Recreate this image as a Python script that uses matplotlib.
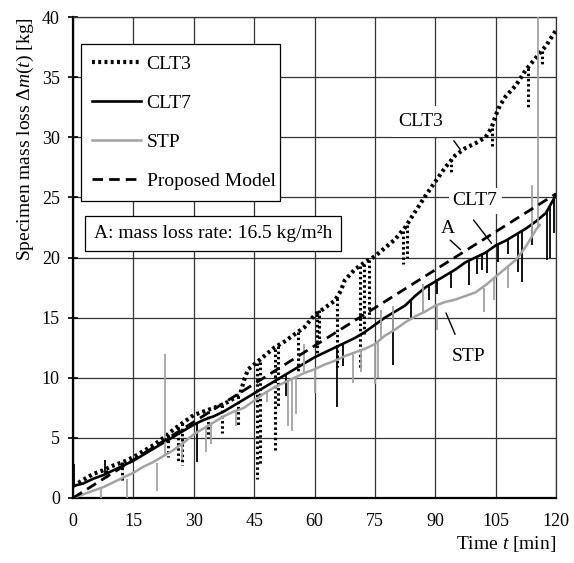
import numpy as np
import matplotlib.pyplot as plt

# mass loss readings [kg] against time [min]
clt3_t = [0, 2.5, 5, 7.5, 10, 12.5, 15, 17.5, 20, 22.5, 25, 27.5, 30, 32.5, 35, 37.5, 40, 41.5,
          42.5, 43.5, 45, 47.5, 50, 52.5, 55, 57.5, 60, 62.5, 65, 66.5, 67.5, 70, 72.5, 75, 77.5,
          80, 82.5, 85, 87.5, 90, 92.5, 95, 97.5, 100, 102.5, 104, 105, 106, 107.5, 110, 112.5,
          115, 117.5, 120]
clt3_m = [1.0, 1.5, 2.0, 2.3, 2.7, 3.0, 3.4, 3.9, 4.4, 5.0, 5.7, 6.3, 6.9, 7.2, 7.5, 7.8, 8.3, 8.6,
          9.8, 10.7, 11.1, 11.8, 12.5, 13.0, 13.6, 14.2, 15.2, 15.8, 16.4, 17.2, 18.1, 19.0, 19.6,
          20.1, 20.8, 21.5, 22.5, 23.8, 25.1, 26.3, 27.5, 28.5, 29.1, 29.5, 30.0, 30.8, 31.8, 32.6,
          33.4, 34.3, 35.6, 36.6, 37.6, 38.9]
# drop-outs: time, upper, lower
clt3_spk_t = [8.3, 12.1, 23.5, 26.0, 27.0, 33.5, 37.0, 41.0, 45.8, 46.4, 50.2, 51.0, 56.0, 60.5,
              61.2, 65.5, 71.3, 72.3, 73.5, 82.0, 83.0, 94.0, 104.0, 113.0, 116.5]
clt3_spk_a = [2.3, 3.0, 5.2, 5.9, 6.2, 7.2, 7.7, 8.5, 11.2, 11.3, 12.4, 12.6, 13.8, 15.3,
              15.6, 16.6, 19.3, 19.5, 19.8, 22.2, 22.7, 28.2, 30.8, 35.8, 37.2]
clt3_spk_b = [1.5, 1.4, 3.4, 2.9, 2.75, 5.0, 5.4, 5.9, 1.6, 2.8, 4.0, 7.5, 10.5, 12.0,
              13.1, 10.9, 10.8, 13.5, 15.0, 19.5, 20.0, 27.0, 29.2, 32.5, 36.0]

clt7_t = [0, 2.5, 5, 7.5, 10, 12.5, 15, 17.5, 20, 22.5, 25, 27.5, 30, 32.5, 35, 37.5, 40, 42.5,
          45, 47.5, 50, 52.5, 55, 57.5, 60, 62.5, 65, 67.5, 70, 72.5, 75, 77.5, 80, 82.5, 85,
          87.5, 90, 92.5, 95, 97.5, 100, 102.5, 105, 107.5, 110, 112.5, 115, 117.5, 120]
clt7_m = [1.0, 1.2, 1.6, 1.9, 2.3, 2.7, 3.1, 3.6, 4.1, 4.6, 5.1, 5.6, 6.1, 6.5, 6.8, 7.2, 7.7, 8.2,
          8.7, 9.2, 9.7, 10.2, 10.7, 11.2, 11.7, 12.1, 12.5, 12.9, 13.3, 13.8, 14.4, 15.0, 15.5,
          16.0, 16.8, 17.5, 18.0, 18.5, 19.0, 19.6, 20.0, 20.4, 21.0, 21.4, 21.9, 22.4, 23.0,
          23.7, 25.2]
clt7_spk_t = [0.2, 8.0, 30.9, 53.0, 65.5, 67.0, 79.5, 84.0, 88.5, 90.4, 94.0, 98.3, 100.3,
              101.5, 102.9, 105.7, 108.0, 110.5, 111.5, 114.0, 117.8, 118.5, 119.5]
clt7_spk_a = [1.0, 1.9, 6.3, 10.3, 12.6, 12.9, 15.4, 16.5, 17.8, 18.2, 18.8, 19.8, 20.1,
              20.3, 20.5, 21.1, 21.5, 22.0, 22.2, 22.8, 23.8, 24.2, 25.0]
clt7_spk_b = [2.8, 3.2, 3.0, 8.5, 7.6, 11.0, 11.1, 15.0, 16.5, 17.0, 17.5, 17.7, 18.6,
              19.0, 18.7, 19.6, 20.3, 18.8, 18.0, 21.0, 19.8, 20.0, 22.0]

stp_t = [0, 2.5, 5, 7.5, 10, 12.5, 15, 17.5, 20, 22.5, 25, 27.5, 30, 32.5, 35, 37.5, 40, 42.5,
         45, 47.5, 50, 52.5, 55, 57.5, 60, 62.5, 65, 67.5, 70, 72.5, 75, 77.5, 80, 82.5, 85,
         87.5, 90, 92.5, 95, 97.5, 100, 102.5, 105, 107.5, 110, 112.5, 115, 116]
stp_m = [0.0, 0.3, 0.6, 0.9, 1.3, 1.7, 2.1, 2.6, 3.0, 3.5, 4.0, 4.6, 5.3, 5.8, 6.3, 6.8, 7.2, 7.5,
         8.1, 8.7, 9.2, 9.6, 10.0, 10.4, 10.7, 11.1, 11.4, 11.8, 12.1, 12.4, 12.8, 13.5, 14.0,
         14.6, 15.1, 15.5, 16.0, 16.3, 16.5, 16.8, 17.1, 17.7, 18.4, 19.1, 19.8, 20.9, 22.3, 22.7]
stp_spk_t = [6.9, 13.4, 20.8, 22.9, 27.0, 33.0, 34.2, 40.5, 48.3, 53.5, 54.5, 55.5, 57.5, 60.0,
             69.5, 71.5, 75.0, 75.8, 76.5, 79.5, 87.0, 90.5, 102.0, 104.5, 108.0, 114.0, 115.5]
stp_spk_a = [0.8, 1.6, 2.9, 3.5, 4.5, 5.9, 6.1, 7.2, 8.8, 9.7, 9.9, 10.0, 10.4, 10.7,
             12.0, 12.3, 12.8, 13.0, 13.2, 13.8, 15.5, 16.0, 17.5, 18.2, 19.2, 21.8, 22.5]
stp_spk_b = [0.0, 0.0, 0.6, 12.0, 3.2, 3.8, 4.5, 6.0, 8.0, 6.0, 5.6, 7.0, 12.8, 8.7,
             9.6, 10.5, 9.5, 10.0, 15.6, 16.0, 17.8, 14.0, 15.5, 16.5, 17.5, 26.0, 40.0]

# proposed model, 16.5 kg/m2h
model_t = [0, 120]
model_m = [0, 25.3]

plt.rcParams['font.family'] = ['Liberation Serif', 'DejaVu Serif']
plt.rcParams['mathtext.fontset'] = 'custom'
plt.rcParams['mathtext.rm'] = 'Liberation Serif'
plt.rcParams['mathtext.it'] = 'Liberation Serif:italic'
plt.rcParams['font.size'] = 14

fig = plt.figure(figsize=(5.74, 5.63), dpi=100)
ax = fig.add_axes([73/574, 1-498/563, 483/574, 481/563])

grey = '#a3a3a3'
ax.plot(clt3_t, clt3_m, color='black', ls=(0, (0.7, 0.8)), lw=3.0, label='CLT3', zorder=2)
ax.vlines(clt3_spk_t, clt3_spk_a, clt3_spk_b, colors='black', linestyles=(0, (0.8, 0.9)), lw=2.2, zorder=2)
ax.plot(clt7_t, clt7_m, color='black', lw=1.9, label='CLT7', zorder=3)
ax.vlines(clt7_spk_t, clt7_spk_a, clt7_spk_b, colors='black', lw=1.3, zorder=3)
ax.plot(stp_t, stp_m, color=grey, lw=1.8, label='STP', zorder=4)
ax.vlines(stp_spk_t, stp_spk_a, stp_spk_b, colors=grey, lw=1.3, zorder=4)
ax.plot(model_t, model_m, color='black', lw=2.0, dashes=(3.8, 2.2), label='Proposed Model', zorder=4)

ax.set_xlim(0, 120)
ax.set_ylim(0, 40)
ax.set_xticks(np.arange(0, 121, 15))
ax.set_yticks(np.arange(0, 41, 5))
ax.grid(True, color='#333333', lw=0.9)
ax.set_axisbelow(True)
for s in ['top', 'right']:
    ax.spines[s].set_linewidth(0.9)
    ax.spines[s].set_color('#333333')
for s in ['left', 'bottom']:
    ax.spines[s].set_linewidth(1.6)
ax.tick_params(axis='y', direction='inout', length=7, width=1.2, pad=6, labelsize=13)
ax.tick_params(axis='x', length=0, pad=11, labelsize=13)

ax.set_ylabel('Specimen mass loss $\\Delta m(t)$ [kg]', loc='top', labelpad=4)
ax.set_xlabel('Time $t$ [min]', loc='right', labelpad=3)

leg = ax.legend(loc='upper left', bbox_to_anchor=(0.0166, 0.6, 0.412, 0.344), mode='expand',
                borderaxespad=0, fancybox=False, framealpha=1, edgecolor='black',
                handlelength=2.5, handletextpad=0.3, labelspacing=1.1, borderpad=0.58)
leg.get_frame().set_linewidth(0.9)

ax.text(5.2, 22.0, 'A: mass loss rate: 16.5 kg/m²h', va='center', ha='left', zorder=6,
        bbox=dict(boxstyle='square,pad=0.45', facecolor='white', edgecolor='black', lw=0.9))

box = dict(facecolor='white', edgecolor='none', pad=5)
ax.text(86.5, 31.35, 'CLT3', ha='center', va='center', zorder=6, bbox=box)
ax.text(99.9, 24.7, 'CLT7', ha='center', va='center', zorder=6, bbox=dict(facecolor='white', edgecolor='none', pad=3))
ax.text(93.2, 22.45, 'A', ha='center', va='center', zorder=6)
ax.text(98.4, 11.8, 'STP', ha='center', va='center', zorder=6, bbox=box)
lead = dict(arrowstyle='-', color='black', lw=1.0)
ax.annotate('', xy=(96.6, 28.8), xytext=(94.2, 29.9), arrowprops=lead, zorder=6)
ax.annotate('', xy=(104.4, 21.0), xytext=(99.1, 23.3), arrowprops=lead, zorder=6)
ax.annotate('', xy=(96.8, 20.5), xytext=(93.2, 21.6), arrowprops=lead, zorder=6)
ax.annotate('', xy=(92.4, 15.6), xytext=(95.2, 13.4), arrowprops=lead, zorder=6)

fig.savefig('out.png', dpi=100)
